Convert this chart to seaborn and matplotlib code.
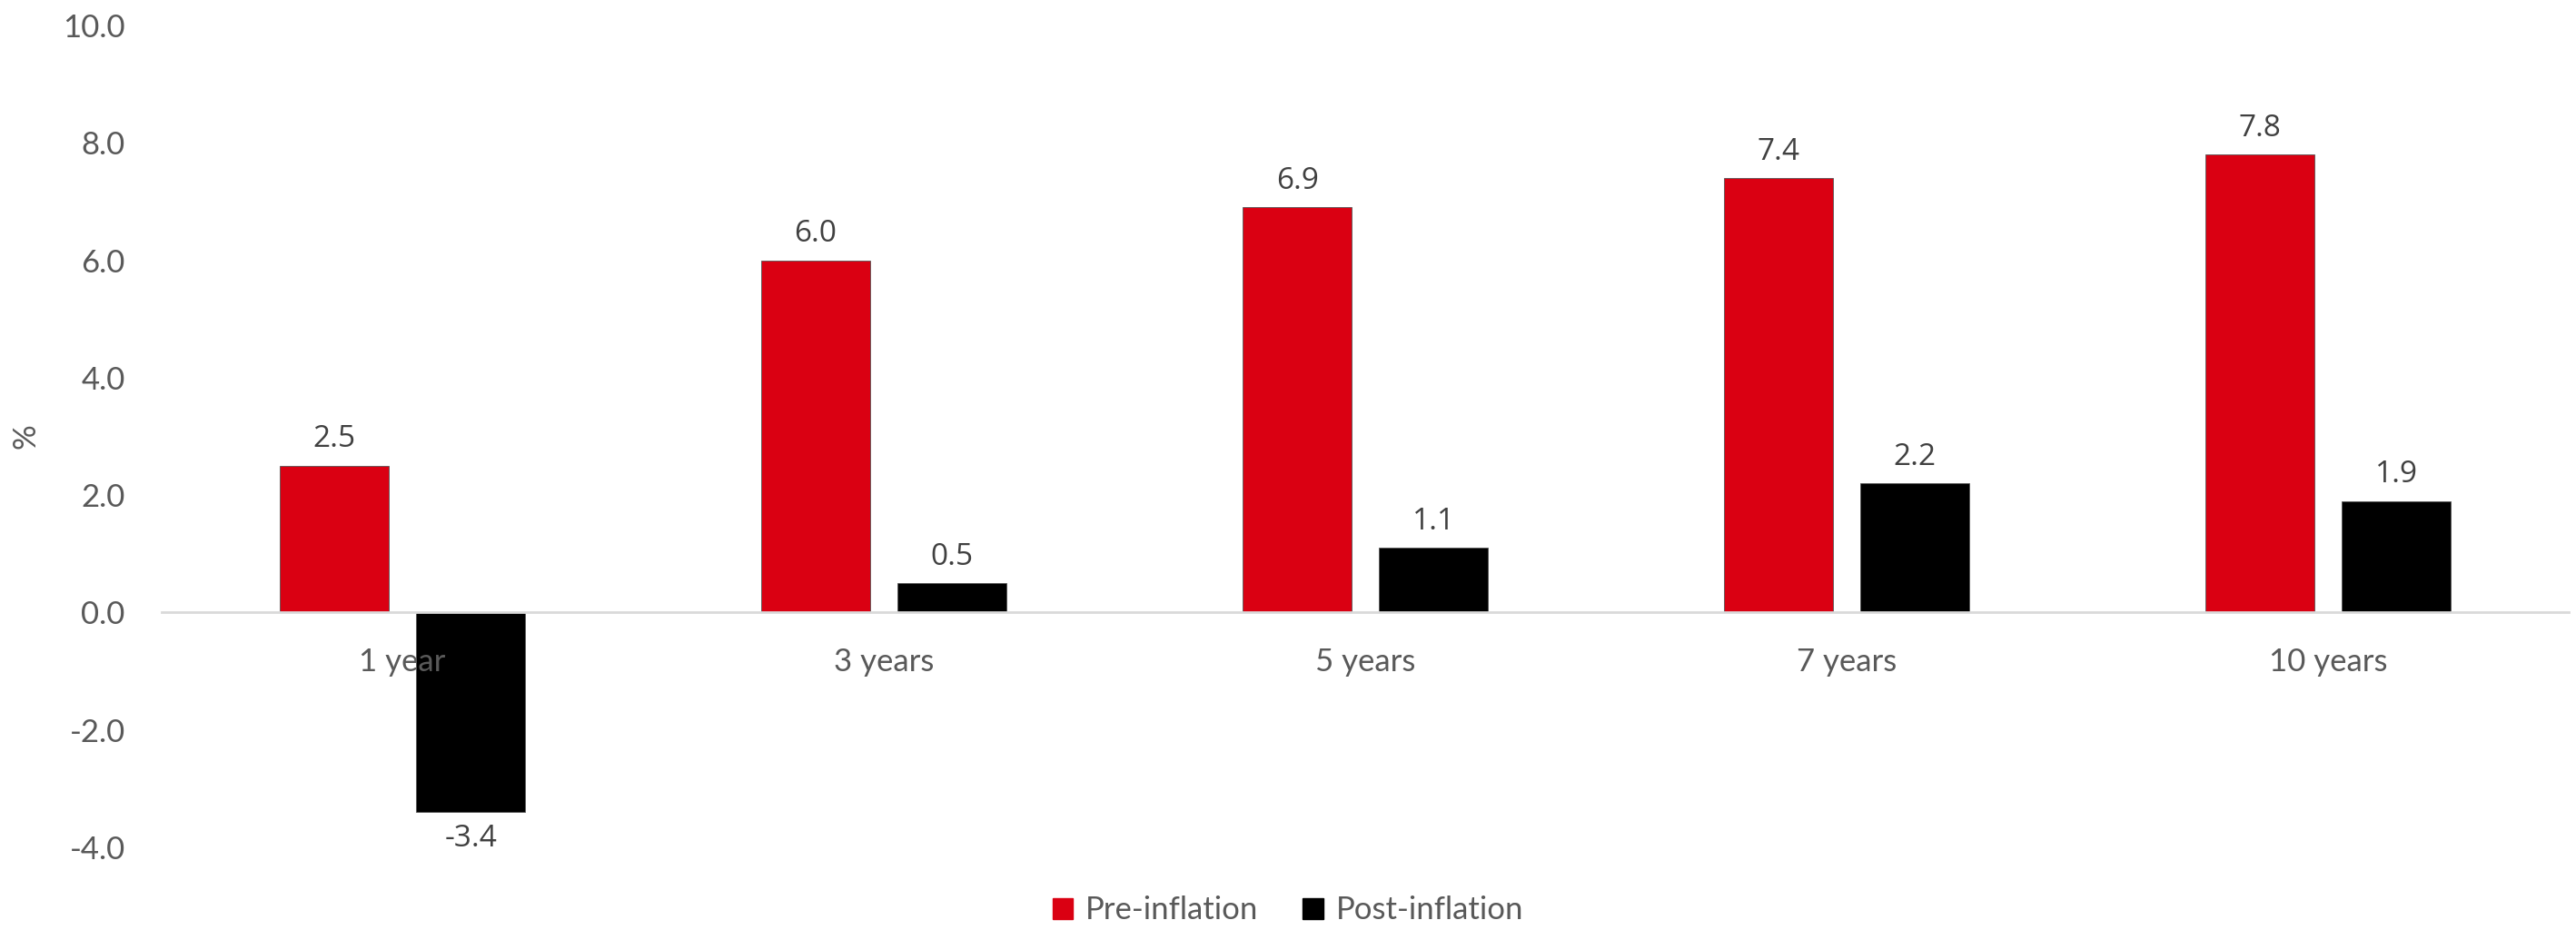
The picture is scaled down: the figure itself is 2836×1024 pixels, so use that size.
import matplotlib
matplotlib.use("Agg")
import matplotlib.pyplot as plt
import seaborn as sns
import pandas as pd

periods = ["1 year", "3 years", "5 years", "7 years", "10 years"]
pre_inflation = [2.5, 6.0, 6.9, 7.4, 7.8]
post_inflation = [-3.4, 0.5, 1.1, 2.2, 1.9]
series_names = ["Pre-inflation", "Post-inflation"]
y_ticks = [-4, -2, 0, 2, 4, 6, 8, 10]

df = pd.DataFrame({
    "period": periods * 2,
    "series": [series_names[0]] * len(periods) + [series_names[1]] * len(periods),
    "value": pre_inflation + post_inflation,
})

sns.set_style("white")
plt.rcParams["font.family"] = ["Lato", "DejaVu Sans"]

fig = plt.figure(figsize = (28.36, 10.24), dpi = 100)
ax = fig.add_axes([0.0628, 0.0889, 0.9972 - 0.0628, 0.9727 - 0.0889])

sns.barplot(data = df, x = "period", y = "value", hue = "series", order = periods,
            hue_order = series_names, palette = ["#DA0012", "#000000"], saturation = 1,
            width = 0.566, gap = 0.2, ax = ax, legend = False,
            edgecolor = "#555555", linewidth = 0.6)

for cont in ax.containers:
    ax.bar_label(cont, fmt = "%.1f", padding = 9, fontsize = 24, color = "#404040",
                 family = ["Open Sans", "DejaVu Sans"])

# tick labels sit on top of the bars, as in the original ("1 year" over the black bar)
ax.set_axisbelow(False)

ax.set_xlim(-0.5, 4.5)
ax.set_ylim(-4, 10)
ax.set_yticks(y_ticks)
ax.set_yticklabels([f"{t:.1f}" for t in y_ticks])
ax.set_xlabel("")
ax.set_ylabel("%", fontsize = 25, color = "#595959", labelpad = 18)

for side in ["top", "right", "left"]:
    ax.spines[side].set_visible(False)
ax.spines["bottom"].set_position(("data", 0))
ax.spines["bottom"].set_color("#D9D9D9")
ax.spines["bottom"].set_linewidth(2)

ax.tick_params(axis = "y", length = 0, pad = 29, labelsize = 25, labelcolor = "#595959")
ax.tick_params(axis = "x", length = 0, pad = 28, labelsize = 25, labelcolor = "#595959")

handles = [plt.Rectangle((0, 0), 1, 1, color = c) for c in ["#DA0012", "#000000"]]
fig.legend(handles, series_names, loc = "center", bbox_to_anchor = (0.5, 0.021),
           ncol = 2, frameon = False, fontsize = 25, labelcolor = "#595959",
           handlelength = 0.65, handleheight = 0.65, handletextpad = 0.4,
           columnspacing = 1.4)

fig.savefig("out.png", dpi = 100)
